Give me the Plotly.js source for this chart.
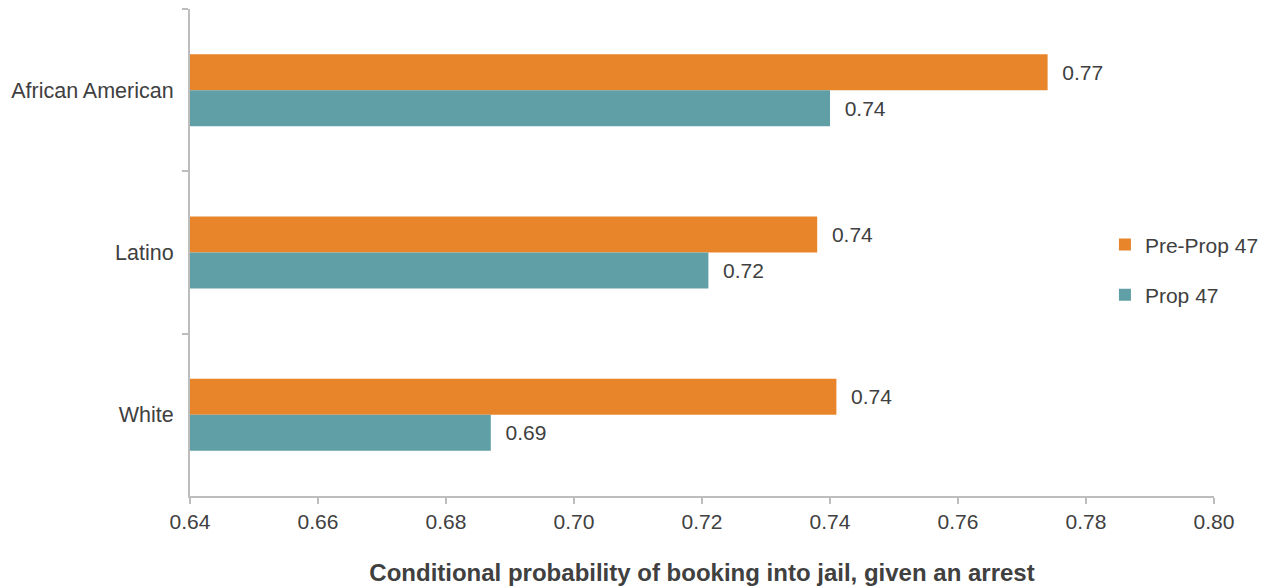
<!DOCTYPE html>
<html>
<head>
<meta charset="utf-8">
<script src="https://cdn.plot.ly/plotly-3.0.1.min.js"></script>
<style>html,body{margin:0;padding:0;background:#fff;}#chart{width:1265px;height:588px;}</style>
</head>
<body>
<div id="chart"></div>
<script>
const categories = ["African American", "Latino", "White"];
const seriesNames = ["Pre-Prop 47", "Prop 47"];
const prePropValues = [0.774, 0.738, 0.741];
const propValues = [0.740, 0.721, 0.687];
const xTickValues = [0.64, 0.66, 0.68, 0.70, 0.72, 0.74, 0.76, 0.78, 0.80];
const xTickLabels = ["0.64", "0.66", "0.68", "0.70", "0.72", "0.74", "0.76", "0.78", "0.80"];
const xTitle = "Conditional probability of booking into jail, given an arrest";

const FONT = "Liberation Sans, Arial, Helvetica, sans-serif";
const TXT = "#404040";

const traces = [
  {
    type: "bar", orientation: "h", name: seriesNames[0], legendgroup: "a",
    y: categories, x: prePropValues,
    marker: {color: "#E8852A", line: {width: 0}},
    texttemplate: "\u00a0\u00a0%{x:.2f}", textposition: "outside",
    textfont: {family: FONT, size: 21, color: TXT},
    cliponaxis: false, hoverinfo: "x+y"
  },
  {
    type: "bar", orientation: "h", name: seriesNames[1], legendgroup: "b",
    y: categories, x: propValues,
    marker: {color: "#619FA6", line: {width: 0}},
    texttemplate: "\u00a0\u00a0%{x:.2f}", textposition: "outside",
    textfont: {family: FONT, size: 21, color: TXT},
    cliponaxis: false, hoverinfo: "x+y"
  }
];

const layout = {
  width: 1265, height: 588,
  margin: {l: 190, r: 51, t: 9, b: 92, pad: 0, autoexpand: false},
  paper_bgcolor: "#ffffff", plot_bgcolor: "#ffffff",
  font: {family: FONT, size: 21, color: TXT},
  barmode: "group", bargap: 0.556, bargroupgap: 0,
  showlegend: true,
  legend: {
    x: 0.8935, xanchor: "left", y: 0.558, yanchor: "top",
    font: {family: FONT, size: 21, color: TXT},
    tracegroupgap: 20, bgcolor: "rgba(0,0,0,0)", borderwidth: 0
  },
  xaxis: {
    range: [0.64, 0.80], tickvals: xTickValues, ticktext: xTickLabels,
    showgrid: false, zeroline: false,
    showline: true, linecolor: "#BDBDBD", linewidth: 2,
    ticks: "outside", ticklen: 6, tickwidth: 2, tickcolor: "#BDBDBD",
    tickfont: {family: FONT, size: 21, color: TXT},
    title: {text: "<b>" + xTitle + "</b>", font: {family: FONT, size: 24, color: TXT}, standoff: 32},
    automargin: false, fixedrange: true
  },
  yaxis: {
    type: "category", categoryorder: "array", categoryarray: categories,
    autorange: "reversed",
    showgrid: false, zeroline: false,
    showline: true, linecolor: "#BDBDBD", linewidth: 2,
    ticks: "outside", tickson: "boundaries", ticklen: 6, tickwidth: 2, tickcolor: "#BDBDBD",
    ticklabelstandoff: 10,
    tickfont: {family: FONT, size: 21.5, color: TXT},
    automargin: false, fixedrange: true
  }
};

Plotly.newPlot("chart", traces, layout, {displayModeBar: false, staticPlot: true});
</script>
</body>
</html>
